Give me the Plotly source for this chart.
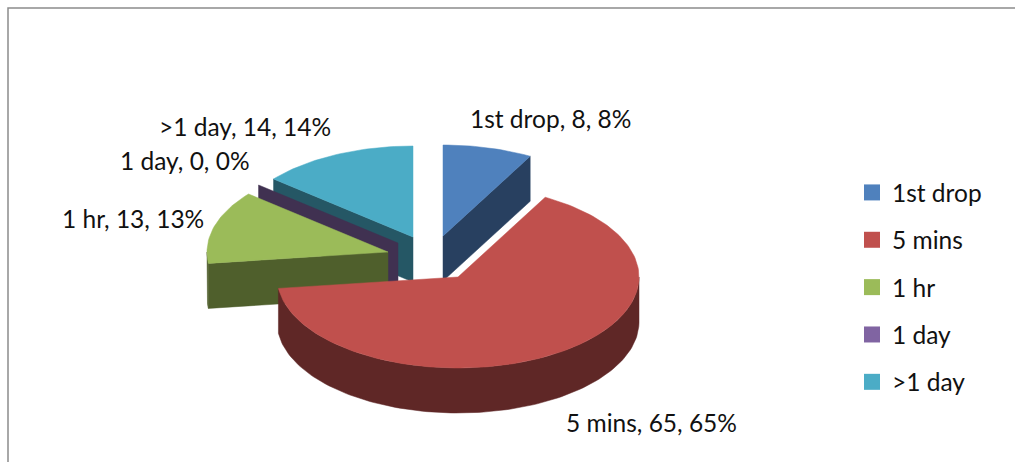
import math
import plotly.graph_objects as go

# ---- data ----
categories = ["1st drop", "5 mins", "1 hr", "1 day", ">1 day"]
values = [8, 65, 13, 0, 14]

# ---- style ----
top_colors = ["#4F81BD", "#C0504D", "#9BBB59", "#8064A2", "#4BACC6"]
side_colors = ["#284060", "#5F2726", "#4F5F2C", "#403151", "#255765"]

W, H = 1015, 462
RX, RY, DEPTH = 181, 91, 45
# slice apex positions on the canvas (explosion of each slice)
apex_x = [443, 458, 388, 398, 413]
apex_y = [236, 277, 252, 243, 237]
label_x = [468, 564, 60, 118, 157]
label_y = [118.5, 422.5, 218.5, 160.5, 126.5]
FONT = "Lato, Carlito, Calibri, sans-serif"
FS = 24.5
total = sum(values)

def rim(ax, ay, deg, drop=0):
    t = math.radians(deg)
    return ax + RX * math.sin(t), ay - RY * math.cos(t) + drop

def arc(ax, ay, a0, a1, drop=0):
    n = max(2, int(abs(a1 - a0) / 1.5) + 2)
    return [rim(ax, ay, a0 + (a1 - a0) * i / (n - 1), drop) for i in range(n)]

fig = go.Figure()

def poly(pts, color):
    fig.add_trace(go.Scatter(
        x=[p[0] for p in pts] + [pts[0][0]], y=[p[1] for p in pts] + [pts[0][1]],
        mode="lines", fill="toself", fillcolor=color,
        line=dict(color=color, width=0.5), hoverinfo="skip", showlegend=False))

# angular span of each slice
starts, a = [], 0.0
for v in values:
    starts.append(a)
    a += 360.0 * v / total
ends = [s + 360.0 * v / total for s, v in zip(starts, values)]

def wall(i):
    """Outer wall, front half only."""
    a0, a1 = max(starts[i], 90), min(ends[i], 270)
    if a1 > a0:
        ax, ay = apex_x[i], apex_y[i]
        poly(arc(ax, ay, a0, a1) + arc(ax, ay, a1, a0, DEPTH), side_colors[i])

def cut(i, deg):
    ax, ay = apex_x[i], apex_y[i]
    px, py = rim(ax, ay, deg)
    poly([(ax, ay), (px, py), (px, py + DEPTH), (ax, ay + DEPTH)], side_colors[i])

def top(i):
    ax, ay = apex_x[i], apex_y[i]
    if values[i] > 0:
        poly([(ax, ay)] + arc(ax, ay, starts[i], ends[i]), top_colors[i])

# painter's order: back slices first
cut(0, ends[0]); top(0)
cut(4, starts[4]); top(4)
cut(3, starts[3])
cut(2, starts[2]); wall(2); top(2)
wall(1); top(1)

# frame of the chart area (open at the bottom)
fig.add_trace(go.Scatter(x=[8, 8, W], y=[H, 8, 8], mode="lines",
                         line=dict(color="#8C8C8C", width=1.5),
                         hoverinfo="skip", showlegend=False))

# legend
for i, c in enumerate(categories):
    fig.add_trace(go.Scatter(x=[None], y=[None], mode="markers", name=c, legendgroup=c,
                             marker=dict(symbol="square", size=17, color=top_colors[i])))

for i, c in enumerate(categories):
    pct = 100 * values[i] / total
    fig.add_annotation(x=label_x[i], y=label_y[i], text=f"{c}, {values[i]}, {pct:.0f}%",
                       showarrow=False, xanchor="left", yanchor="middle", xref="x", yref="y",
                       font=dict(family=FONT, size=FS, color="#111111"))

fig.update_layout(
    width=W, height=H, margin=dict(l=0, r=0, t=0, b=0), autosize=False,
    paper_bgcolor="white", plot_bgcolor="white",
    xaxis=dict(range=[0, W], visible=False, fixedrange=True),
    yaxis=dict(range=[H, 0], visible=False, fixedrange=True),
    legend=dict(x=852 / W, y=1 - 170 / H, xanchor="left", yanchor="top",
                font=dict(family=FONT, size=FS, color="#111111"),
                traceorder="grouped", tracegroupgap=12.5, itemwidth=30,
                bgcolor="rgba(0,0,0,0)", borderwidth=0),
)
fig.write_html("out.html", config={"displayModeBar": False},
               post_script="document.body.style.margin='0';document.body.style.overflow='hidden';")
